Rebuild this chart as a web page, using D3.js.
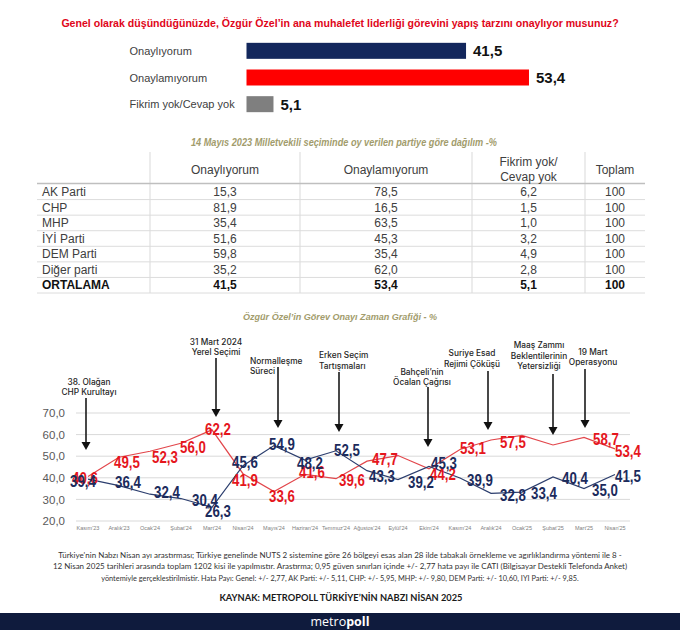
<!DOCTYPE html>
<html><head><meta charset="utf-8">
<script src="https://cdn.jsdelivr.net/npm/d3@7"></script>
<style>
html,body{margin:0;padding:0;background:#fff;}
svg{display:block;}
</style></head><body>
<svg id="c" width="680" height="630"></svg>
<script>
// ---------------- DATA ----------------
const questionTitle = "Genel olarak düşündüğünüzde, Özgür Özel’in ana muhalefet liderliği görevini yapış tarzını onaylıyor musunuz?";
const barCategories = ["Onaylıyorum", "Onaylamıyorum", "Fikrim yok/Cevap yok"];
const barValues = [41.5, 53.4, 5.1];

const tableTitle = "14 Mayıs 2023 Milletvekili seçiminde oy verilen partiye göre dağılım -%";
const tableHeaders = [["Onaylıyorum"], ["Onaylamıyorum"], ["Fikrim yok/", "Cevap yok"], ["Toplam"]];
const parties = ["AK Parti", "CHP", "MHP", "İYİ Parti", "DEM Parti", "Diğer parti", "ORTALAMA"];
const partyApprove = [15.3, 81.9, 35.4, 51.6, 59.8, 35.2, 41.5];
const partyDisapprove = [78.5, 16.5, 63.5, 45.3, 35.4, 62.0, 53.4];
const partyNoIdea = [6.2, 1.5, 1.0, 3.2, 4.9, 2.8, 5.1];
const partyTotal = [100, 100, 100, 100, 100, 100, 100];

const lineTitle = "Özgür Özel’in Görev Onayı Zaman Grafiği - %";
const months = ["Kasım'23", "Aralık'23", "Ocak'24", "Şubat'24", "Mart'24", "Nisan'24", "Mayıs'24", "Haziran'24", "Temmuz'24", "Ağustos'24", "Eylül'24", "Ekim'24", "Kasım'24", "Aralık'24", "Ocak'25", "Şubat'25", "Mart'25", "Nisan'25"];
const approveSeries = [39.4, 36.4, 32.4, 30.4, 26.3, 45.6, 54.9, 48.2, 52.5, 43.3, 39.2, 45.3, 39.9, 32.8, 33.4, 40.4, 35.0, 41.5];
const disapproveSeries = [40.6, 49.5, 52.3, 56.0, 62.2, 41.9, 33.6, 41.6, 39.6, 47.7, 50.3, 44.2, 53.1, 57.5, 59.6, 55.2, 58.7, 53.4];
const disapproveLabeled = [1,1,1,1,1,1,1,1,1,1,0,1,1,1,0,0,1,1];
const yTicks = [20, 30, 40, 50, 60, 70];

const events = [
  {month: "Kasım'23", text: ["38. Olağan", "CHP Kurultayı"]},
  {month: "Mart'24", text: ["31 Mart 2024", "Yerel Seçimi"]},
  {month: "Mayıs'24", text: ["Normalleşme", "Süreci"]},
  {month: "Temmuz'24", text: ["Erken Seçim", "Tartışmaları"]},
  {month: "Ekim'24", text: ["Bahçeli’nin", "Öcalan Çağrısı"]},
  {month: "Aralık'24", text: ["Suriye Esad", "Rejimi Çöküşü"]},
  {month: "Şubat'25", text: ["Maaş Zammı", "Beklentilerinin", "Yetersizliği"]},
  {month: "Mart'25", text: ["19 Mart", "Operasyonu"]}
];

const footnoteLines = [
  "Türkiye'nin Nabzı Nisan ayı arastırması; Türkiye genelinde NUTS 2 sistemine göre 26 bölgeyi esas alan 28 ilde tabakalı örnekleme ve agırlıklandırma yöntemi ile 8 -",
  "12 Nisan 2025 tarihleri arasında toplam 1202 kisi ile yapılmıstır. Arastırma; 0,95 güven sınırları içinde +/- 2,77 hata payı ile CATI (Bilgisayar Destekli Telefonda Anket)",
  "yöntemiyle gerçeklestirilmistir. Hata Payı: Genel: +/- 2,77, AK Parti: +/- 5,11, CHP: +/- 5,95, MHP: +/- 9,80, DEM Parti: +/- 10,60, IYI Parti: +/- 9,85."
];
const sourceText = "KAYNAK: METROPOLL TÜRKİYE’NİN NABZI NİSAN 2025";
const brandParts = ["metro", "poll"];

// ---------------- LAYOUT / STYLE ----------------
const NAVY = "#13275c", RED = "#ff0000", GRAY = "#7f7f7f";
const LINE_NAVY = "#2c3e6e", LINE_RED = "#e2464b";
const LBL_NAVY = "#1c2b5c", LBL_RED = "#e5161d";
const OLIVE = "#a29c6c";
const SANS = "'Liberation Sans', Arial, sans-serif";
const ANNO = "Inter, Lato, sans-serif";
const FOOT = "Lato, 'Open Sans', sans-serif";

const loc = d3.formatLocale({decimal: ",", thousands: ".", grouping: [3], currency: ["", ""]});
const f1 = loc.format(".1f");

const svg = d3.select("#c");
svg.append("rect").attr("width", 680).attr("height", 630).attr("fill", "#fff");

function fitText(sel, w) { sel.attr("textLength", w).attr("lengthAdjust", "spacingAndGlyphs"); }
function condense(sel, k) {
  sel.each(function () {
    const w = this.getComputedTextLength();
    d3.select(this).attr("textLength", w * k).attr("lengthAdjust", "spacingAndGlyphs");
  });
}
function fitFontSize(sel, w) {
  sel.each(function () {
    const fs = +d3.select(this).attr("font-size");
    const cw = this.getComputedTextLength();
    d3.select(this).attr("font-size", (fs * w / cw).toFixed(2));
  });
}

// ---------- Title ----------
svg.append("text").attr("x", 340).attr("y", 26.5).attr("text-anchor", "middle")
  .attr("font-family", SANS).attr("font-weight", "bold").attr("font-size", 12)
  .attr("fill", "#e0061a").text(questionTitle).call(fitFontSize, 558);

// ---------- Bar chart ----------
const bx = d3.scaleLinear().domain([0, 60]).range([246.5, 246.5 + 5.29 * 60]);
const by = d3.scaleBand().domain(barCategories).range([37.5, 117.5]);
const barColors = [NAVY, RED, GRAY];
const bg = svg.append("g");
barCategories.forEach((c, i) => {
  const cy = by(c) + by.bandwidth() / 2;
  bg.append("rect").attr("x", bx(0)).attr("y", cy - 8).attr("width", bx(barValues[i]) - bx(0)).attr("height", 16)
    .attr("fill", barColors[i]);
  bg.append("text").attr("x", 129.5).attr("y", cy + 4).attr("font-family", SANS).attr("font-size", 11)
    .attr("fill", "#404040").text(c);
  bg.append("text").attr("x", bx(barValues[i]) + 7).attr("y", cy + 5.5).attr("font-family", SANS)
    .attr("font-weight", "bold").attr("font-size", 15).attr("fill", "#111").text(f1(barValues[i]));
});

// ---------- Table ----------
svg.append("text").attr("x", 344).attr("y", 145.5).attr("text-anchor", "middle")
  .attr("font-family", SANS).attr("font-style", "italic").attr("font-weight", "bold").attr("font-size", 10)
  .attr("fill", OLIVE).text(tableTitle).call(fitText, 306);

const colEdges = [37, 150, 300, 472, 585, 645];
const ty = d3.scaleBand().domain(parties).range([184, 293]);
const tg = svg.append("g");
colEdges.slice(1, 5).forEach(xv => {
  tg.append("line").attr("x1", xv).attr("x2", xv).attr("y1", 152).attr("y2", 293)
    .attr("stroke", "#d9d9d9").attr("stroke-width", 1);
});
tg.append("line").attr("x1", colEdges[0]).attr("x2", colEdges[5]).attr("y1", 183.5).attr("y2", 183.5)
  .attr("stroke", "#bfbfbf").attr("stroke-width", 1.5);
parties.forEach(p => {
  const yb = ty(p) + ty.bandwidth();
  tg.append("line").attr("x1", colEdges[0]).attr("x2", colEdges[5]).attr("y1", yb).attr("y2", yb)
    .attr("stroke", "#dcdcdc").attr("stroke-width", 1);
});
tableHeaders.forEach((h, j) => {
  const cx = (colEdges[j + 1] + colEdges[j + 2]) / 2;
  const start = 169.5 - (h.length - 1) * 7.5;
  h.forEach((ln, k) => {
    tg.append("text").attr("x", cx).attr("y", start + k * 15 + 4.3).attr("text-anchor", "middle")
      .attr("font-family", SANS).attr("font-size", 12).attr("fill", "#404040").text(ln);
  });
});
const tableCols = [partyApprove, partyDisapprove, partyNoIdea, partyTotal];
parties.forEach((p, i) => {
  const cy = ty(p) + ty.bandwidth() / 2 + 4.2;
  const last = i === parties.length - 1;
  tg.append("text").attr("x", 42).attr("y", cy).attr("font-family", SANS).attr("font-size", 12)
    .attr("font-weight", last ? "bold" : "normal").attr("fill", last ? "#111" : "#404040").text(p);
  tableCols.forEach((col, j) => {
    const cx = (colEdges[j + 1] + colEdges[j + 2]) / 2;
    const v = col[i];
    tg.append("text").attr("x", cx).attr("y", cy).attr("text-anchor", "middle").attr("font-family", SANS)
      .attr("font-size", 12).attr("font-weight", last ? "bold" : "normal").attr("fill", last ? "#111" : "#404040")
      .text(j === 3 ? String(v) : f1(v));
  });
});

// ---------- Line chart ----------
svg.append("text").attr("x", 340).attr("y", 320).attr("text-anchor", "middle")
  .attr("font-family", SANS).attr("font-style", "italic").attr("font-weight", "bold").attr("font-size", 9.5)
  .attr("fill", OLIVE).text(lineTitle).call(fitText, 194);

const x = d3.scalePoint().domain(months).range([88, 615]);
const y = d3.scaleLinear().domain([20, 70]).range([521, 413]);
const lg = svg.append("g");
yTicks.forEach(t => {
  lg.append("line").attr("x1", 76).attr("x2", 630).attr("y1", y(t)).attr("y2", y(t))
    .attr("stroke", "#d9d9d9").attr("stroke-width", 1);
  lg.append("text").attr("x", 65).attr("y", y(t) + 4.2).attr("text-anchor", "end").attr("font-family", SANS)
    .attr("font-size", 11.5).attr("fill", "#595959").text(f1(t));
});
months.forEach(m => {
  lg.append("text").attr("x", x(m)).attr("y", 529.5).attr("text-anchor", "middle").attr("font-family", SANS)
    .attr("font-size", 5.5).attr("fill", "#808080").text(m);
});
const lineGen = d3.line().x((d, i) => x(months[i])).y(d => y(d));
lg.append("path").attr("d", lineGen(disapproveSeries)).attr("fill", "none").attr("stroke", LINE_RED).attr("stroke-width", 1.2);
lg.append("path").attr("d", lineGen(approveSeries)).attr("fill", "none").attr("stroke", LINE_NAVY).attr("stroke-width", 1.2);

const approveOff = [[-5,2],[9,-4],[17,-2],[24,1],[6,4],[2,-4],[8,-2],[5,3],[11,-1],[15,5],[23,2],[15,-3],[20,2],[22,2],[22,1],[22,1],[21,1],[13,1]];
const disapproveOff = [[-3,1],[8,5],[15,6],[12,4],[6,-1],[2,6],[8,4],[7,-2],[16,1],[18,-2],[0,0],[14,5],[13,-2],[22,2],[0,0],[0,0],[22,2],[13,2]];
function drawLabels(series, offs, color, shown) {
  series.forEach((v, i) => {
    if (shown && !shown[i]) return;
    lg.append("text").attr("x", x(months[i]) + offs[i][0]).attr("y", y(v) + offs[i][1] + 6)
      .attr("text-anchor", "middle").attr("font-family", SANS).attr("font-weight", "bold")
      .attr("font-size", 17).attr("fill", color).text(f1(v)).call(condense, 0.78);
  });
}
drawLabels(disapproveSeries, disapproveOff, LBL_RED, disapproveLabeled);
drawLabels(approveSeries, approveOff, LBL_NAVY, null);

const eventLayout = [
  {dx: -2, tdx: 3, anchor: "middle", ty: 381.7, top: 398, tip: 450},
  {dx: 4, tdx: 0, anchor: "middle", ty: 341.7, top: 358, tip: 417},
  {dx: 4, tdx: -28, anchor: "start", ty: 360.7, top: 367, tip: 428},
  {dx: 3, tdx: -20, anchor: "start", ty: 355, top: 372, tip: 432},
  {dx: -1, tdx: -6, anchor: "middle", ty: 371.7, top: 387, tip: 447},
  {dx: -3, tdx: -16, anchor: "middle", ty: 353.3, top: 371, tip: 430},
  {dx: 0, tdx: -14, anchor: "middle", ty: 345, top: 374, tip: 435},
  {dx: 1, tdx: 8, anchor: "middle", ty: 351.7, top: 369, tip: 428}
];
const eg = svg.append("g");
events.forEach((e, i) => {
  const L = eventLayout[i];
  const ax = x(e.month) + L.dx;
  eg.append("line").attr("x1", ax).attr("x2", ax).attr("y1", L.top).attr("y2", L.tip - 6)
    .attr("stroke", "#1a1a1a").attr("stroke-width", 1.6);
  eg.append("path").attr("d", `M${ax - 4.5},${L.tip - 8} L${ax + 4.5},${L.tip - 8} L${ax},${L.tip} Z`).attr("fill", "#111");
  e.text.forEach((t, k) => {
    eg.append("text").attr("x", ax + L.tdx).attr("y", L.ty + k * 10.7 + 3).attr("text-anchor", L.anchor)
      .attr("font-family", ANNO).attr("font-weight", 500).attr("font-size", 8.3).attr("fill", "#262626").text(t);
  });
});

// ---------- Footer ----------
const footSqueeze = [1.0, 1.0, 0.92];
footnoteLines.forEach((t, i) => {
  svg.append("text").attr("x", 340).attr("y", 557.5 + i * 11.5).attr("text-anchor", "middle")
    .attr("font-family", FOOT).attr("font-size", 8).attr("fill", "#333").text(t).call(condense, footSqueeze[i]);
});
svg.append("text").attr("x", 341).attr("y", 601).attr("text-anchor", "middle").attr("font-family", FOOT)
  .attr("font-weight", "bold").attr("font-size", 9.5).attr("fill", "#1a1a1a").text(sourceText).call(fitText, 243);
svg.append("rect").attr("x", 0).attr("y", 613).attr("width", 680).attr("height", 17).attr("fill", "#0f1b3d");
const brand = svg.append("text").attr("x", 340).attr("y", 625.5).attr("text-anchor", "middle")
  .attr("font-family", "'Open Sans', Lato, sans-serif").attr("font-size", 12.5).attr("fill", "#fff");
brand.append("tspan").text(brandParts[0]);
brand.append("tspan").attr("font-weight", "bold").text(brandParts[1]);
</script>
</body></html>
